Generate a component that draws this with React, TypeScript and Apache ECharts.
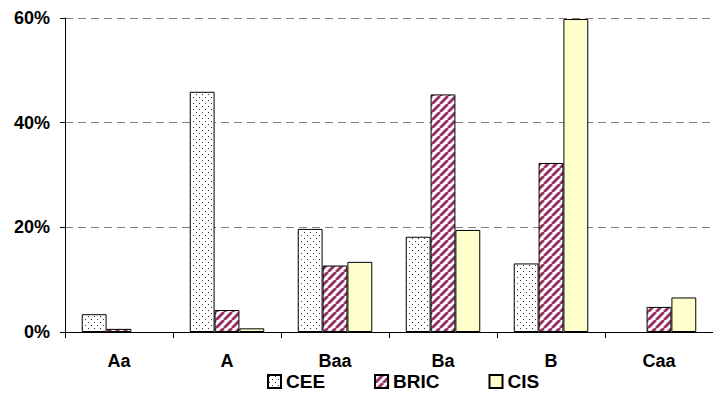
import React, { useEffect, useRef } from "react";
import * as echarts from "echarts";

const categories = ["Aa", "A", "Baa", "Ba", "B", "Caa"];
const seriesNames = ["CEE", "BRIC", "CIS"];
const ceeValues = [3.4, 45.9, 19.7, 18.2, 13.1, null];
const bricValues = [0.6, 4.2, 12.7, 45.4, 32.3, 4.8];
const cisValues = [null, 0.7, 13.4, 19.5, 59.8, 6.6];
const yTicks = [0, 20, 40, 60];

function dotPattern() {
  const c = document.createElement("canvas");
  c.width = 6;
  c.height = 6;
  const ctx = c.getContext("2d")!;
  ctx.fillStyle = "#ffffff";
  ctx.fillRect(0, 0, 6, 6);
  ctx.fillStyle = "#333333";
  ctx.fillRect(1, 1, 1, 1);
  ctx.fillRect(4, 4, 1, 1);
  return c;
}

function stripePattern() {
  const s = 8;
  const c = document.createElement("canvas");
  c.width = s;
  c.height = s;
  const ctx = c.getContext("2d")!;
  ctx.fillStyle = "#ffffff";
  ctx.fillRect(0, 0, s, s);
  ctx.strokeStyle = "#993366";
  ctx.lineWidth = 3;
  for (const off of [-s, 0, s]) {
    ctx.beginPath();
    ctx.moveTo(off, s);
    ctx.lineTo(off + s, 0);
    ctx.stroke();
  }
  return c;
}

export default function App() {
  const ref = useRef<HTMLDivElement>(null);
  useEffect(() => {
    if (!ref.current) return;
    const chart = echarts.init(ref.current, null, { renderer: "svg" });
    const dots = { image: dotPattern(), repeat: "repeat", imageWidth: 6, imageHeight: 6 };
    const stripes = { image: stripePattern(), repeat: "repeat", imageWidth: 8, imageHeight: 8 };
    const font = "Liberation Sans, Arial, sans-serif";
    const colors: any[] = [dots, stripes, "#FFFFCC"];
    const values = [ceeValues, bricValues, cisValues];
    chart.setOption({
      animation: false,
      backgroundColor: "#ffffff",
      grid: { left: 65, top: 18, bottom: 68, right: -10 },
      legend: {
        top: 372,
        left: 267,
        padding: 0,
        itemWidth: 13,
        itemHeight: 13,
        itemGap: 49,
        icon: "rect",
        textStyle: { fontFamily: font, fontWeight: "bold", fontSize: 19, color: "#000" },
        data: seriesNames,
      },
      xAxis: {
        type: "category",
        data: categories,
        axisLine: { lineStyle: { color: "#000", width: 1 } },
        axisTick: { show: true, length: 6, lineStyle: { color: "#000" } },
        axisLabel: { margin: 20, fontFamily: font, fontWeight: "bold", fontSize: 18, color: "#000" },
      },
      yAxis: {
        type: "value",
        min: yTicks[0],
        max: yTicks[yTicks.length - 1],
        interval: 20,
        axisLine: { show: true, lineStyle: { color: "#000", width: 1 } },
        axisTick: { show: true, length: 5, lineStyle: { color: "#000" } },
        axisLabel: { margin: 15, fontFamily: font, fontWeight: "bold", fontSize: 18, color: "#000", formatter: "{value}%" },
        splitLine: { show: true, lineStyle: { color: "#808080", type: [8, 5], width: 1 } },
      },
      series: seriesNames.map((name, i) => ({
        name,
        type: "bar",
        data: values[i],
        barGap: "0%",
        barCategoryGap: "31%",
        itemStyle: { color: colors[i], borderColor: "#000", borderWidth: 1 },
      })),
    });
    return () => chart.dispose();
  }, []);
  return <div ref={ref} style={{ width: 713, height: 400, position: "absolute", left: 0, top: 0 }} />;
}
